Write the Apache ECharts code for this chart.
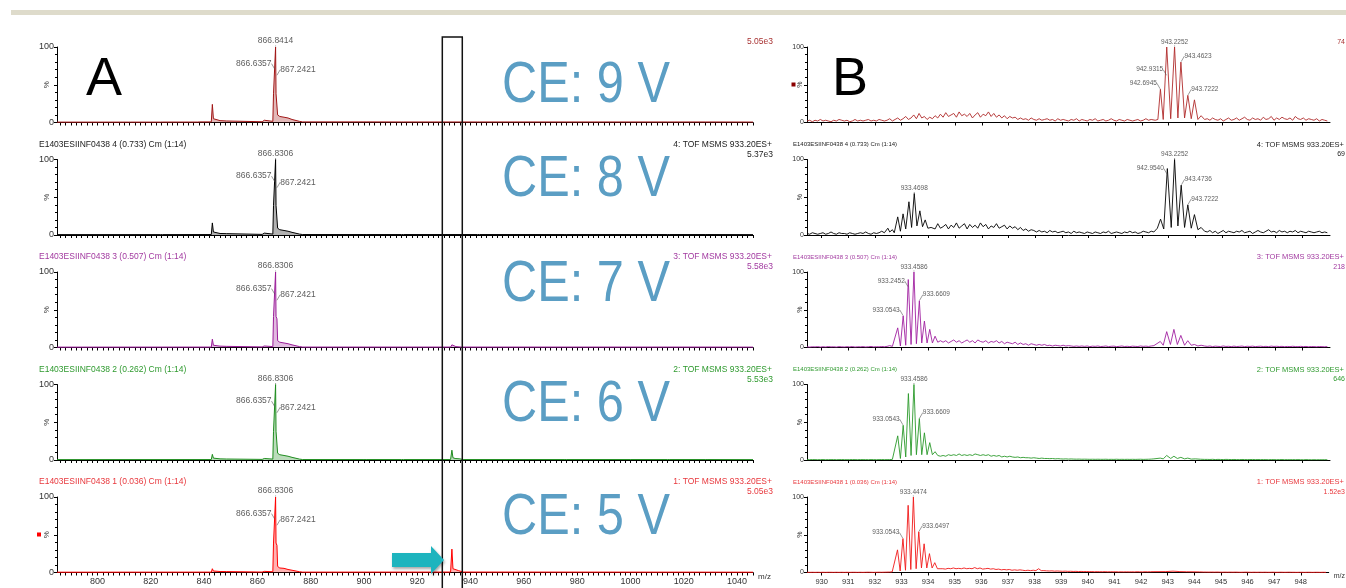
<!DOCTYPE html>
<html><head><meta charset="utf-8">
<script src="https://cdn.jsdelivr.net/npm/echarts@6/dist/echarts.min.js"></script>
<style>html,body{margin:0;padding:0;background:#fff}#c{width:1346px;height:588px}</style>
</head><body><div id="c"></div>
<script>
// ================= DATA =================
// Left column (A): full-range spectra, [m/z, % intensity]
const specL1 = [[784.8,0.5],[811.6,0.5],[812,1.6],[812.4,0.5],[823.6,0.5],[824,1.6],[824.4,0.6],[837.6,0.6],[838,2],[838.4,0.8],[842.7,0.8],[843.1,24],[843.5,5],[844.2,3],[846,2.5],[848.5,2],[849.2,0.8],[861.8,1],[862.6,3],[863.3,1.2],[865.8,1.5],[866.05,38],[866.6,38],[866.83,100],[867.0,38],[867.35,37],[867.6,10],[868.4,8],[870,7],[871.5,6],[872.2,5],[873,4],[875.8,1.5],[877,0.8],[900,0.8],[900.5,2.5],[901.1,0.8],[914.1,0.7],[914.5,1.5],[914.9,0.7],[942.6,0.7],[943,2],[943.4,0.7],[975.1,0.7],[975.5,2],[975.9,0.7],[999.9,0.7],[1000.2,2],[1000.6,0.7],[1014,0.7],[1014.4,1.5],[1014.8,0.7],[1028.3,0.7],[1028.7,2],[1029.1,0.7],[1046,0.6]];
const specL2 = [[784.8,0.5],[823.6,0.5],[824,1.2],[824.4,0.5],[842.7,0.6],[843.1,16],[843.5,4],[844.2,2.5],[846,2],[848.5,1.8],[849.2,0.6],[861.8,0.8],[862.6,2.5],[863.3,1],[865.8,1.2],[866.05,39],[866.6,39],[866.83,100],[867.0,39],[867.35,37],[867.6,9],[868.4,7],[870,6],[871.5,5],[872.2,4.5],[873,3.5],[875.8,1.2],[877,0.6],[900,0.6],[900.5,2],[901.1,0.6],[914.1,0.6],[914.5,1.2],[914.9,0.6],[942.6,0.6],[943,1.8],[943.4,0.6],[975.1,0.6],[975.5,1.5],[975.9,0.6],[999.9,0.6],[1000.2,1.5],[1000.6,0.6],[1014,0.6],[1014.4,1.2],[1014.8,0.6],[1028.3,0.6],[1028.7,1.5],[1029.1,0.6],[1046,0.5]];
const specL3 = [[784.8,0.5],[842.7,0.6],[843.1,11],[843.5,3],[844.2,2],[846,1.8],[848.5,1.5],[849.2,0.6],[861.8,0.8],[862.6,2],[863.3,0.8],[865.8,1.2],[866.05,41],[866.6,41],[866.83,100],[867.0,41],[867.35,38],[867.6,9],[868.4,7],[870,6],[871.5,5],[872.2,4],[873,3.5],[875.8,1.2],[877,0.6],[900,0.6],[900.5,1.8],[901.1,0.6],[914.1,0.6],[914.5,1.2],[914.9,0.6],[932.5,0.6],[933.0,3.5],[933.4,1.5],[934.5,1.2],[936.5,0.6],[975.1,0.6],[975.5,1.5],[975.9,0.6],[999.9,0.6],[1000.2,1.5],[1000.6,0.6],[1014,0.6],[1014.4,1.2],[1014.8,0.6],[1028.3,0.6],[1028.7,1.5],[1029.1,0.6],[1046,0.5]];
const specL4 = [[784.8,0.5],[842.7,0.6],[843.1,7.5],[843.5,2.5],[844.2,1.8],[846,1.5],[848.5,1.3],[849.2,0.6],[861.8,0.8],[862.6,2],[863.3,0.8],[865.8,1.2],[866.05,38],[866.6,38],[866.83,100],[867.0,38],[867.35,36],[867.6,9],[868.4,7],[870,6],[871.5,5],[872.2,4],[873,3.5],[875.8,1.2],[877,0.6],[900,0.6],[900.5,1.8],[901.1,0.6],[914.1,0.6],[914.5,1],[914.9,0.6],[932.5,0.6],[933.0,13],[933.4,3],[934.2,2],[936,1.5],[937.2,0.6],[975.1,0.6],[975.5,1.3],[975.9,0.6],[999.9,0.6],[1000.2,1.3],[1000.6,0.6],[1014,0.6],[1014.4,1],[1014.8,0.6],[1028.3,0.6],[1028.7,1.3],[1029.1,0.6],[1046,0.5]];
const specL5 = [[784.8,0.4],[842.7,0.5],[843.1,5],[843.5,2],[844.2,1.5],[846,1.3],[848.5,1.2],[849.2,0.5],[861.8,0.6],[862.6,1.5],[863.3,0.6],[865.8,1],[866.05,39],[866.6,39],[866.83,100],[867.0,39],[867.35,36],[867.6,8],[868.4,6],[870,5.5],[871.5,4],[872.2,3.5],[873,3],[875.8,1],[877,0.5],[900,0.5],[900.5,1.5],[901.1,0.5],[932.5,0.6],[933.0,31],[933.4,5],[934,3],[935.5,2.5],[937.2,0.6],[1046,0.4]];

// Right column (B): baseline read every 0.1 m/z from 929.45 (null = covered by the peak lists)
const rightStart = 929.45, rightStep = 0.1;
const noiseR1 = [2,3,1,3,2,4,2,3,2,1,3,2,4,3,2,3,1,2,4,2,3,2,3,4,2,3,2,4,3,2,
 3,5,2,4,6,3,5,8,4,6, 10,5,12,6,8,4,7,5,9,6, 11,7,13,8,10,12,7,14,9,11, 8,12,6,10,13,7,11,9,14,8,
 12,7,10,6,9,5,8,6,7,4, 6,4,5,3,6,4,3,5,3,4, 5,3,4,2,5,3,4,3,2,4, 3,5,2,4,3,2,4,3,5,2,
 3,4,2,3,5,3,2,4,3,2, 4,3,2,3,4,2,3,5,3,4,
 null,null,null,null,null,null,null,null,null,null,null,null,null,null,null,null,null,null,null,null,
 5,3,6,4,3,5,2,4,6,3, 4,6,3,5,7,4,3,6,4,5, 3,7,4,5,8,3,6,4,7,5, 4,6,3,8,5,4,6,3,5,4, 3,5,2,4,3,2];
const peaksR1 = [[[942.5,3],[942.6,4],[942.6945,44],[942.8,4],[942.9315,100],[943.08,5],[943.2252,100],[943.35,6],[943.4623,80],[943.6,6],[943.7222,36],[943.85,5],[943.97,30],[944.1,4],[944.22,9],[944.35,4]]];

const noiseR2 = [2,1,3,2,1,2,3,1,2,4,2,1,3,2,2,1,3,2,1,2,3,2,4,2,1,3,2,3,5,3,
 null,null,null,null,null,null,null,null,null,null,null,null,null,null,null,null,null,
 12,8,15,9,11,14,8,13,10,16, 9,12,15,8,14,10,13,9,16,11, 14,8,12,10,15,9,11,13,8,12, 9,11,7,10,6,8,5,7,6,4,
 6,4,5,3,6,4,5,3,4,5, 3,4,2,5,3,4,3,2,4,3, 2,4,3,2,4,3,5,2,3,4, 3,2,4,3,5,3,4,2,3,5, 4,3,5,4,
 null,null,null,null,null,null,null,null,null,null,null,null,null,null,null,null,null,null,null,
 4,6,3,5,2,4,6,3,5,4, 3,5,4,6,3,4,5,2,4,6, 4,3,5,7,4,5,3,6,4,5, 3,5,4,6,3,5,4,3,5,4, 3,4,5,3,4,3];
const peaksR2 = [
 [[932.4,3],[932.48,9],[932.55,4],[932.65,7],[932.72,3],[932.85,24],[932.95,5],[933.05,28],[933.15,8],[933.27,44],[933.37,10],[933.4698,55],[933.57,12],[933.68,32],[933.78,11],[933.88,20],[933.98,9],[934.1,10]],
 [[942.5,5],[942.58,9],[942.7,21],[942.82,8],[942.954,88],[943.1,10],[943.2252,100],[943.35,12],[943.4736,66],[943.6,10],[943.7222,40],[943.85,9],[943.97,27],[944.1,7],[944.22,10],[944.35,5]]];

const noiseR3 = [1,0.5,1,0.8,1.2,0.6,1,0.7,1.3,0.8,1,0.6,1.2,0.9,0.7,1.1,0.8,1.3,0.6,1,0.9,1.2,0.7,1,1.4,0.8,1.1,0.9,1.3,1,1.5,2.5,1.5,
 null,null,null,null,null,null,null,null,null,null,null,null,null,null,null,null,null,null,
 7,9,6,8,10,7,9,6,8,10, 7,9,6,10,8,7,9,6,8,7, 9,6,8,5,7,6,5,7,4,6, 4,5,3,5,4,3,4,3,4,2.5,
 3,2,3,2.5,2,3,2,2.5,2,1.5, 2,1.5,2,1.5,2,1.2,1.8,1.5,2,1.3, 1.5,2,1.2,1.6,1.8,1.2,1.5,2,1.3,1.6, 1.2,1.8,1.5,1.3,2,1.5,1.8,1.4,2,2.5,
 null,null,null,null,null,null,null,null,null,null,null,null,null,null,null,null,null,null,null,
 1.5,2,1.2,1.8,1.5,1.3,2,1.4,1.6,1.2, 1.8,1.3,1.5,1.9,1.2,1.6,1.4,1.8,1.2,1.5, 1.7,1.3,1.5,1.2,1.8,1.4,1.6,1.3,1.5,1.1, 1.4,1.2,1.6,1.3,1.1,1.5,1.2,1.4,1,1.3, 1.2,1,1.3,1.1,1,1.2];
const peaksR3 = [
 [[932.7,1.5],[932.85,26],[932.95,2],[933.0543,42],[933.15,3],[933.2452,90],[933.35,4],[933.4586,100],[933.55,5],[933.6609,62],[933.75,6],[933.85,35],[933.95,6],[934.05,24],[934.15,6],[934.25,15],[934.35,7],[934.45,9]],
 [[942.5,2.5],[942.69,8],[942.8,3],[942.93,21],[943.07,4],[943.2,24],[943.33,4],[943.46,16],[943.6,3],[943.72,9],[943.85,3],[943.97,4],[944.1,2],[944.22,3],[944.35,2]]];

const noiseR4 = [0.5,0.4,0.6,0.5,0.4,0.5,0.6,0.4,0.5,0.5,0.6,0.4,0.5,0.6,0.5,0.4,0.5,0.6,0.5,0.4,0.6,0.5,0.5,0.4,0.6,0.5,0.4,0.5,0.6,0.5,0.5,0.6,0.8,
 null,null,null,null,null,null,null,null,null,null,null,null,null,null,null,null,null,null,
 6,5,7,6,7,6,8,6,7,6, 7,6,8,7,6,7,6,7,5,6, 5,6,4,5,4,5,4,3.5,4,3, 3.5,3,3,2.5,3,2.5,2,2.5,2,2,
 1.8,2,1.5,1.8,1.5,1.3,1.5,1.2,1.4,1.2, 1.1,1.2,1,1.1,1,0.9,1,0.9,1,0.9, 0.9,1,0.8,0.9,0.8,1,0.8,0.9,0.8,0.9, 0.8,0.9,0.8,0.9,1,0.8,0.9,1,1.2,1.5,
 null,null,null,null,null,null,null,null,null,null,null,null,null,null,null,null,null,0.9,0.8,
 0.8,0.7,0.9,0.6,0.8,0.7,0.6,0.8,0.7,0.6, 0.7,0.6,0.5,0.7,0.6,0.5,0.6,0.7,0.5,0.6, 0.5,0.6,0.5,0.4,0.6,0.5,0.4,0.5,0.6,0.4, 0.5,0.4,0.5,0.4,0.5,0.4,0.3,0.5,0.4,0.3, 0.4,0.3,0.4,0.3,0.4,0.3];
const peaksR4 = [
 [[932.7,0.8],[932.85,32],[932.95,2],[933.0543,46],[933.15,4],[933.25,88],[933.35,6],[933.4586,100],[933.55,7],[933.6609,55],[933.75,7],[933.85,36],[933.95,7],[934.05,23],[934.15,7],[934.25,11],[934.35,6],[934.45,5]],
 [[942.5,1.5],[942.69,2.5],[942.8,1.5],[942.93,6],[943.08,2],[943.2,5],[943.33,2],[943.46,3.5],[943.6,1.5],[943.72,2.5],[943.85,1.2],[944.0,1.5],[944.2,1]]];

const noiseR5 = [0.3,0.2,0.3,0.2,0.3,0.2,0.3,0.2,0.3,0.3,0.2,0.3,0.2,0.3,0.2,0.3,0.2,0.3,0.3,0.2,0.3,0.2,0.3,0.4,0.3,0.2,0.3,0.4,0.3,0.4,0.5,0.6,0.8,
 null,null,null,null,null,null,null,null,null,null,null,null,null,null,null,null,null,null,
 5,4.5,5.5,5,6,5,5.5,5,6,5, 5.5,5,6.5,5,6,4.5,5,5.5,4.5,5, 4,4.5,3.5,4,3.5,4,3,3.5,3,3.5, 3,2.5,3,2.5,3,2.5,5,2.5,2.5,2.2,
 2,2.2,1.8,2,1.8,1.6,1.8,1.5,1.6,1.4, 1.5,1.3,1.4,1.2,1.3,1.1,1.2,1,1.1,1, 1,1.1,0.9,1,0.9,1,0.8,0.9,0.8,0.9, 0.8,0.9,0.8,1,0.9,0.8,1,0.9,1,1.1,
 null,null,null,null,null,null,null,null,null,null,null,null,null,null,null,null,null,0.7,0.6,
 0.6,0.5,0.6,0.5,0.6,0.5,0.4,0.5,0.4,0.5, 0.4,0.5,0.4,0.3,0.4,0.5,0.4,0.3,0.4,0.3, 0.4,0.3,0.4,0.3,0.3,0.4,0.3,0.3,0.4,0.3, 0.3,0.4,0.3,0.3,0.2,0.3,0.3,0.2,0.3,0.3, 0.2,0.3,0.3,0.2,0.3,0.2];
const peaksR5 = [
 [[932.7,0.8],[932.85,30],[932.95,2],[933.0543,45],[933.15,3],[933.25,89],[933.35,4],[933.4474,100],[933.55,5],[933.6497,54],[933.75,6],[933.85,38],[933.95,6],[934.05,25],[934.15,6],[934.25,13],[934.35,5],[934.45,5]],
 [[942.5,1],[942.93,1.2],[943.2,1.8],[943.46,1.2],[943.7,1],[944.2,0.8]]];

// Peak annotations [m/z, intensity, text]
const annL = [
 [[866.83,100,'866.8414'],[866.6357,70,'866.6357'],[867.2421,62,'867.2421']],
 [[866.83,100,'866.8306'],[866.6357,70,'866.6357'],[867.2421,62,'867.2421']],
 [[866.83,100,'866.8306'],[866.6357,70,'866.6357'],[867.2421,62,'867.2421']],
 [[866.83,100,'866.8306'],[866.6357,70,'866.6357'],[867.2421,62,'867.2421']],
 [[866.83,100,'866.8306'],[866.6357,70,'866.6357'],[867.2421,62,'867.2421']]];
const annR = [
 [[943.2252,100,'943.2252'],[942.9315,62,'942.9315'],[943.4623,80,'943.4623'],[942.6945,44,'942.6945'],[943.7222,36,'943.7222']],
 [[943.2252,100,'943.2252'],[942.954,80,'942.9540'],[943.4736,66,'943.4736'],[943.7222,40,'943.7222'],[933.4698,55,'933.4698']],
 [[933.4586,100,'933.4586'],[933.2452,80,'933.2452'],[933.6609,62,'933.6609'],[933.0543,42,'933.0543']],
 [[933.4586,100,'933.4586'],[933.0543,46,'933.0543'],[933.6609,55,'933.6609']],
 [[933.4474,100,'933.4474'],[933.0543,45,'933.0543'],[933.6497,54,'933.6497']]];

// Texts
const ceLabels = ['CE: 9 V','CE: 8 V','CE: 7 V','CE: 6 V','CE: 5 V'];
const headers = ['', 'E1403ESIINF0438 4 (0.733) Cm (1:14)', 'E1403ESIINF0438 3 (0.507) Cm (1:14)', 'E1403ESIINF0438 2 (0.262) Cm (1:14)', 'E1403ESIINF0438 1 (0.036) Cm (1:14)'];
const functions = ['', '4: TOF MSMS 933.20ES+', '3: TOF MSMS 933.20ES+', '2: TOF MSMS 933.20ES+', '1: TOF MSMS 933.20ES+'];
const intensL = ['5.05e3','5.37e3','5.58e3','5.53e3','5.05e3'];
const intensR = ['74','69','218','646','1.52e3'];
const yUnit = '%';
const tickLabelsL = [800,820,840,860,880,900,920,940,960,980,1000,1020,1040];
const tickLabelsR = [930,931,932,933,934,935,936,937,938,939,940,941,942,943,944,945,946,947,948];
const boxRange = [929.4, 936.9];

// ================= STYLE / LAYOUT =================
const FF = "'Liberation Sans', Arial, sans-serif";
const lineColorsL = ['#a01515','#000000','#9a1c98','#1e8c1e','#ff0000'];
const lineColorsR = ['#b02a2a','#000000','#a020a0','#2a9a2a','#f01818'];
const textColors = ['#a83232','#222222','#a23aa0','#2f9a2f','#e8383d'];
const labelSidesL = ['top','left','right'];
const labelSidesR = [['top','left','right','left','right'],['top','left','right','right','top'],['top','left','right','left'],['top','left','right'],['top','left','right']];
const tops = [47, 159.5, 272, 384.5, 497];
const gh = 75.5;
const LX = 57, LW = 696, RX = 807, RW = 523;
const xRangeL = [784.8, 1046], xRangeR = [929.45, 949.05];

const ticksL = []; for (let v = 786; v <= 1046; v += 2) ticksL.push(v);

function buildRight(noise, clusters) {
  const pts = [];
  noise.forEach((v, i) => {
    if (v == null) return;
    const mz = +(rightStart + i * rightStep).toFixed(2);
    if (clusters.some(c => mz >= c[0][0] && mz <= c[c.length - 1][0])) return;
    pts.push([mz, v]);
  });
  clusters.forEach(c => c.forEach(p => pts.push(p)));
  pts.sort((a, b) => a[0] - b[0]);
  return pts;
}
const specL = [specL1, specL2, specL3, specL4, specL5];
const specR = [buildRight(noiseR1, peaksR1), buildRight(noiseR2, peaksR2), buildRight(noiseR3, peaksR3), buildRight(noiseR4, peaksR4), buildRight(noiseR5, peaksR5)];

const grid = [], xAxis = [], yAxis = [], series = [];
function addPanel(idx, left, width, range, tickVals, labelVals, isLeft) {
  const gi = grid.length;
  const last = idx === 4;
  const fs = isLeft ? 9 : 7.5;
  grid.push({left: left, top: tops[idx], width: width, height: gh});
  xAxis.push({gridIndex: gi, type: 'value', min: range[0], max: range[1],
    axisLine: {show: true, onZero: false, lineStyle: {color: '#000', width: 1}},
    axisTick: {show: true, length: 3, customValues: tickVals, lineStyle: {color: '#000', width: 1}},
    axisLabel: {show: last, customValues: labelVals, fontSize: fs, color: '#333', margin: 5, fontFamily: FF, formatter: v => String(v)},
    splitLine: {show: false},
    name: last ? 'm/z' : '', nameLocation: 'end', nameGap: 5,
    nameTextStyle: {fontSize: isLeft ? 8 : 7, color: '#333', fontFamily: FF, verticalAlign: 'top'}
  });
  yAxis.push({gridIndex: gi, type: 'value', min: 0, max: 100, interval: 50,
    axisLine: {show: true, lineStyle: {color: '#000', width: 1}},
    axisTick: {show: true, length: 3, lineStyle: {color: '#000'}},
    minorTick: {show: true, splitNumber: 5, length: 2, lineStyle: {color: '#000'}},
    splitLine: {show: false},
    axisLabel: {fontSize: isLeft ? 9 : 7, color: '#333', margin: 3, fontFamily: FF, formatter: v => v === 50 ? '' : String(v)}
  });
  const col = isLeft ? lineColorsL[idx] : lineColorsR[idx];
  series.push({type: 'line', xAxisIndex: gi, yAxisIndex: gi, data: isLeft ? specL[idx] : specR[idx],
    showSymbol: false, symbol: 'none', silent: true, clip: true,
    lineStyle: {color: col, width: isLeft ? 1 : 0.9},
    areaStyle: isLeft ? {color: col, opacity: 0.3} : undefined, z: 3});
  const ann = isLeft ? annL[idx] : annR[idx];
  const sides = isLeft ? labelSidesL : labelSidesR[idx];
  series.push({type: 'scatter', xAxisIndex: gi, yAxisIndex: gi, symbolSize: 1, silent: true, z: 5,
    itemStyle: {color: 'rgba(0,0,0,0)'},
    data: ann.map((a, k) => ({value: [a[0], a[1]], name: a[2],
      label: {position: sides[k], distance: sides[k] === 'top' ? 1 : 2}})),
    label: {show: true, formatter: '{b}', fontSize: isLeft ? 8.5 : 6.5, color: '#333', fontFamily: FF},
    labelLine: {show: true, lineStyle: {color: '#555', width: 0.6}},
    labelLayout: p => {
      const s = sides[p.dataIndex];
      if (s === 'top') return {};
      return {dx: s === 'left' ? -1 : 1, dy: -6};
    }
  });
}
for (let i = 0; i < 5; i++) addPanel(i, LX, LW, xRangeL, ticksL, tickLabelsL, true);
for (let i = 0; i < 5; i++) addPanel(i, RX, RW, xRangeR, tickLabelsR, tickLabelsR, false);

// Graphic texts & decorations
const graphic = [];
graphic.push({type: 'rect', shape: {x: 11, y: 10, width: 1335, height: 5}, style: {fill: '#dedbcb'}, silent: true});
graphic.push({type: 'text', x: 86, y: 80, style: {text: 'A', font: '54px ' + FF, fill: '#000', textAlign: 'left', textVerticalAlign: 'middle'}});
graphic.push({type: 'text', x: 832, y: 80, style: {text: 'B', font: '54px ' + FF, fill: '#000', textAlign: 'left', textVerticalAlign: 'middle'}});
const ceY = [86, 180, 285, 405, 518];
for (let i = 0; i < 5; i++) {
  graphic.push({type: 'text', x: 502, y: ceY[i], scaleX: 0.84,
    style: {text: ceLabels[i], font: '58px ' + FF, fill: '#5b9ec4', textAlign: 'left', textVerticalAlign: 'middle'}});
  const c = textColors[i];
  if (headers[i]) {
    graphic.push({type: 'text', x: 39, y: tops[i] - 15, style: {text: headers[i], font: '8.5px ' + FF, fill: c, textAlign: 'left', textVerticalAlign: 'middle'}});
    graphic.push({type: 'text', x: 772, y: tops[i] - 15, style: {text: functions[i], font: '8.5px ' + FF, fill: c, textAlign: 'right', textVerticalAlign: 'middle'}});
    graphic.push({type: 'text', x: 793, y: tops[i] - 15, style: {text: headers[i], font: '6px ' + FF, fill: c, textAlign: 'left', textVerticalAlign: 'middle'}});
    graphic.push({type: 'text', x: 1344, y: tops[i] - 15, style: {text: functions[i], font: '7.5px ' + FF, fill: c, textAlign: 'right', textVerticalAlign: 'middle'}});
  }
  graphic.push({type: 'text', x: 773, y: tops[i] - 5, style: {text: intensL[i], font: '8.5px ' + FF, fill: c, textAlign: 'right', textVerticalAlign: 'middle'}});
  graphic.push({type: 'text', x: 1345, y: tops[i] - 5, style: {text: intensR[i], font: '7px ' + FF, fill: c, textAlign: 'right', textVerticalAlign: 'middle'}});
  // rotated "%" axis titles at mid-height of each panel
  graphic.push({type: 'text', x: LX - 10, y: tops[i] + gh / 2, rotation: Math.PI / 2,
    style: {text: yUnit, font: '8px ' + FF, fill: '#333', textAlign: 'center', textVerticalAlign: 'middle'}});
  graphic.push({type: 'text', x: RX - 7, y: tops[i] + gh / 2, rotation: Math.PI / 2,
    style: {text: yUnit, font: '7px ' + FF, fill: '#333', textAlign: 'center', textVerticalAlign: 'middle'}});
}
graphic.push({type: 'rect', shape: {x: 37, y: 532.5, width: 4, height: 4}, style: {fill: '#ff0000'}});
graphic.push({type: 'rect', shape: {x: 791.5, y: 82.5, width: 4, height: 4}, style: {fill: '#8b0000'}});
// arrow
graphic.push({type: 'polygon', z: 10, shape: {points: [[392,553],[431,553],[431,546],[444,560],[431,574],[431,567],[392,567]]},
  style: {fill: '#1db4be', shadowBlur: 3, shadowOffsetX: 1, shadowOffsetY: 2, shadowColor: 'rgba(0,0,0,0.35)'}});

const chart = echarts.init(document.getElementById('c'), null, {renderer: 'canvas'});
chart.setOption({animation: false, backgroundColor: '#fff', grid, xAxis, yAxis, series, graphic});
// framing box around the precursor region, in data coordinates of the bottom-left panel
const bx0 = chart.convertToPixel({xAxisIndex: 4}, boxRange[0]);
const bx1 = chart.convertToPixel({xAxisIndex: 4}, boxRange[1]);
graphic.push({type: 'rect', z: 9, shape: {x: bx0, y: 37, width: bx1 - bx0, height: 560}, style: {fill: 'none', stroke: '#111', lineWidth: 1.5}});
chart.setOption({graphic});
</script></body></html>
